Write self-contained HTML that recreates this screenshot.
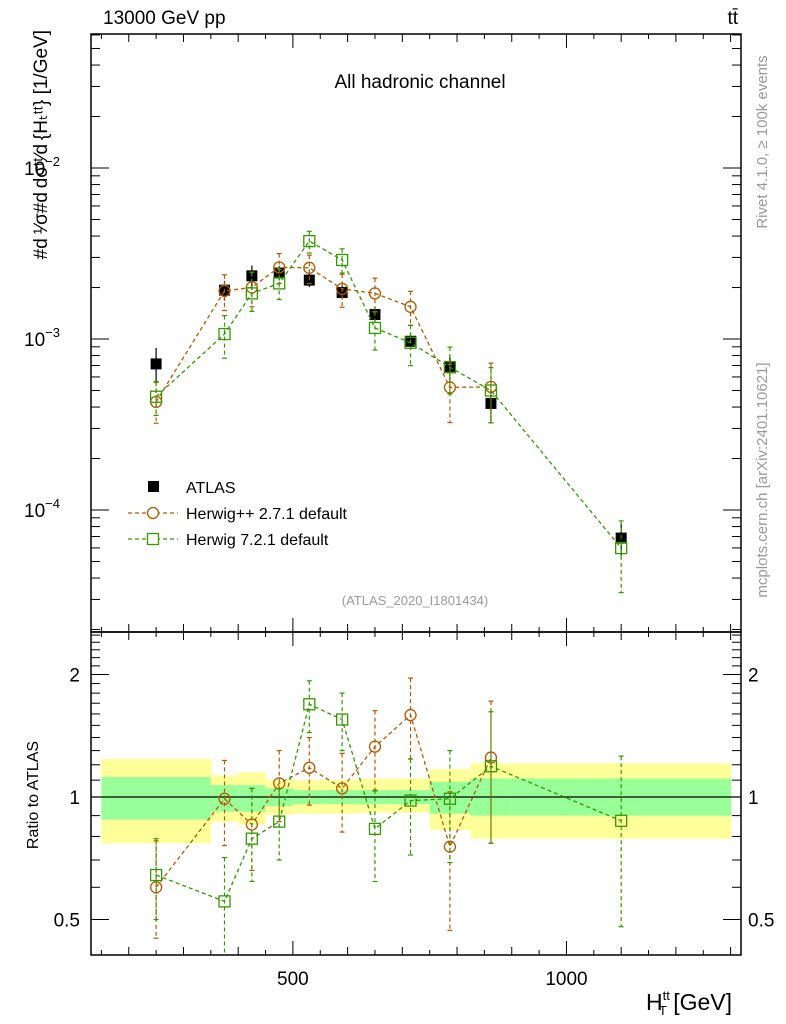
<!DOCTYPE html>
<html><head><meta charset="utf-8"><style>
body{margin:0;background:#fff;}
svg{display:block;font-family:"Liberation Sans",sans-serif;}
</style></head><body>
<svg id="c" width="786" height="1024" viewBox="0 0 786 1024"></svg>
<script>
const binLo=[150,350,400,450,500,560,620,680,750,825,900];
const binHi=[350,400,450,500,560,620,680,750,825,900,1300];
const binMid=[250,375,425,475,530,590,650,715,787,862,1100];
const dataVals=[7.15e-4,1.93e-3,2.34e-3,2.43e-3,2.21e-3,1.87e-3,1.39e-3,9.7e-4,6.9e-4,4.2e-4,6.85e-5];
const statHi=[1.12,1.07,1.07,1.05,1.04,1.04,1.04,1.04,1.09,1.11,1.11];
const statLo=[0.88,0.92,0.92,0.95,0.96,0.96,0.96,0.96,0.91,0.90,0.90];
const totHi=[1.24,1.13,1.15,1.10,1.10,1.10,1.11,1.11,1.17,1.21,1.21];
const totLo=[0.77,0.87,0.855,0.905,0.91,0.91,0.915,0.915,0.83,0.79,0.79];
const hppRatio=[0.60,0.99,0.856,1.08,1.18,1.05,1.33,1.59,0.755,1.25];
const hppUp=[0.78,1.23,1.05,1.30,1.40,1.28,1.63,1.96,1.03,1.72];
const hppDn=[0.45,0.76,0.66,0.87,0.955,0.82,1.035,1.24,0.47,0.77];
const h7Ratio=[0.643,0.554,0.79,0.87,1.69,1.55,0.835,0.98,0.99,1.19,0.874];
const h7Up=[0.79,0.71,1.05,1.05,1.93,1.80,1.04,1.24,1.30,1.62,1.26];
const h7Dn=[0.50,0.40,0.62,0.70,1.44,1.30,0.62,0.72,0.69,0.77,0.48];
const xTicks=[500,1000];
const yMainTicks=[-4,-3,-2];
const yRatioTicks=[0.5,1,2];

const NS="http://www.w3.org/2000/svg";
const svg=document.getElementById('c');
const L=91,R=741,T=34,M=632,B=955;
const X=v=>L+(v-131)*(R-L)/1188;
const YM=v=>168-171*(Math.log10(v)+2);
const YR=r=>797-122.5*Math.log2(r);
function el(tag,attrs,parent,name,inter){const e=document.createElementNS(NS,tag);for(const k in attrs)e.setAttribute(k,attrs[k]);


(parent||svg).appendChild(e);return e;}
function txt(s,attrs,name){const e=el('text',attrs,svg,name,false);e.textContent=s;return e;}

const defs=el('defs',{},svg,'defs',false);
const cp1=el('clipPath',{id:'cm'},defs,'clip-main',false);el('rect',{x:L,y:T,width:R-L,height:M-T},cp1,'clip-rect',false);
const cp2=el('clipPath',{id:'cr'},defs,'clip-ratio',false);el('rect',{x:L,y:M,width:R-L,height:B-M},cp2,'clip-rect',false);

const gR=el('g',{'clip-path':'url(#cr)'},svg,'ratio-plot-area',false);
for(let i=0;i<binLo.length;i++){
 el('rect',{x:X(binLo[i]),y:YR(totHi[i]),width:X(binHi[i])-X(binLo[i])+0.5,height:YR(totLo[i])-YR(totHi[i]),fill:'#ffff99'},gR,'total-uncertainty-band',false);
 el('rect',{x:X(binLo[i]),y:YR(statHi[i]),width:X(binHi[i])-X(binLo[i])+0.5,height:YR(statLo[i])-YR(statHi[i]),fill:'#99ff99'},gR,'stat-uncertainty-band',false);
}
el('line',{x1:L,x2:R,y1:YR(1),y2:YR(1),stroke:'#000','stroke-width':1.3},gR,'ratio-unity-line',false);

const C1='#b35900',C2='#339900';
function series(g,xs,ys,ups,dns,col,marker,name){
 let pts=xs.map((x,i)=>X(x)+','+ys[i]).join(' ');
 el('polyline',{points:pts,fill:'none',stroke:col,'stroke-width':1.3,'stroke-dasharray':'4,3'},g,name+'-line',false);
 xs.forEach((x,i)=>{
  const cx=X(x);
  el('line',{x1:cx,x2:cx,y1:ups[i],y2:dns[i],stroke:col,'stroke-width':1.2,'stroke-dasharray':'4,3'},g,name+'-errorbar',false);
  el('line',{x1:cx-2.5,x2:cx+2.5,y1:ups[i],y2:ups[i],stroke:col,'stroke-width':1.2},g,name+'-errorcap',false);
  el('line',{x1:cx-2.5,x2:cx+2.5,y1:dns[i],y2:dns[i],stroke:col,'stroke-width':1.2},g,name+'-errorcap',false);
  if(marker==='c')el('circle',{cx:cx,cy:ys[i],r:5.5,fill:'none',stroke:col,'stroke-width':1.3},g,name+'-point',false);
  else el('rect',{x:cx-5.5,y:ys[i]-5.5,width:11,height:11,fill:'none',stroke:col,'stroke-width':1.3},g,name+'-point',false);
 });
}
const xsH=binMid.slice(0,hppRatio.length);
series(gR,xsH,hppRatio.map(YR),hppUp.map(YR),hppDn.map(YR),C1,'c','herwigpp-ratio');
series(gR,binMid,h7Ratio.map(YR),h7Up.map(YR),h7Dn.map(YR),C2,'s','herwig7-ratio');

const gM=el('g',{'clip-path':'url(#cm)'},svg,'main-plot-area',false);
dataVals.forEach((v,i)=>{
 const cx=X(binMid[i]);
 el('line',{x1:cx,x2:cx,y1:YM(v*totHi[i]),y2:YM(v*totLo[i]),stroke:'#000','stroke-width':1.2},gM,'atlas-errorbar',false);
 el('rect',{x:cx-5.5,y:YM(v)-5.5,width:11,height:11,fill:'#000'},gM,'atlas-point',false);
});
series(gM,xsH,hppRatio.map((r,i)=>YM(r*dataVals[i])),hppUp.map((r,i)=>YM(r*dataVals[i])),hppDn.map((r,i)=>YM(r*dataVals[i])),C1,'c','herwigpp');
series(gM,binMid,h7Ratio.map((r,i)=>YM(r*dataVals[i])),h7Up.map((r,i)=>YM(r*dataVals[i])),h7Dn.map((r,i)=>YM(r*dataVals[i])),C2,'s','herwig7');

el('rect',{x:L,y:T,width:R-L,height:M-T,fill:'none',stroke:'#000','stroke-width':1.5},svg,'main-frame',false);
el('rect',{x:L,y:M,width:R-L,height:B-M,fill:'none',stroke:'#000','stroke-width':1.5},svg,'ratio-frame',false);

for(let v=150;v<=1300;v+=50){
 const big=v%500===0, med=v%100===0;
 const len=big?14:(med?8:5);
 const x=X(v);
 [[T,1],[M,-1],[M,1],[B,-1]].forEach(([y,d])=>el('line',{x1:x,x2:x,y1:y,y2:y+d*len,stroke:'#000','stroke-width':1},svg,'x-tick',false));
}
xTicks.forEach(v=>txt(String(v),{x:X(v),y:985,'font-size':19,'text-anchor':'middle'},'x-tick-label'));

for(let d=-5;d<=-1;d++){for(let k=1;k<=9;k++){
 const v=k*Math.pow(10,d);const y=YM(v);if(y<T||y>M)continue;
 const len=k===1?18:9;
 el('line',{x1:L,x2:L+len,y1:y,y2:y,stroke:'#000','stroke-width':1},svg,'y-tick',false);
 el('line',{x1:R,x2:R-len,y1:y,y2:y,stroke:'#000','stroke-width':1},svg,'y-tick',false);
}}
yMainTicks.forEach(e=>{const t=txt('10',{x:60,y:YM(Math.pow(10,e))+7,'font-size':19,'text-anchor':'end'},'y-tick-label');
 const s=document.createElementNS(NS,'tspan');s.setAttribute('dy',-9);s.setAttribute('font-size',13);s.textContent='\u2212'+(-e);
 
 
 t.appendChild(s);});

const rMinor=[0.5,0.6,0.7,0.8,0.9,1,1.1,1.2,1.3,1.4,1.5,1.6,1.7,1.8,1.9,2,2.1,2.2,2.3,2.4,2.5];
rMinor.forEach(r=>{const y=YR(r);if(y<M||y>B)return;const len=(r===0.5||r===1||r===2)?18:9;
 el('line',{x1:L,x2:L+len,y1:y,y2:y,stroke:'#000','stroke-width':1},svg,'ratio-tick',false);
 el('line',{x1:R,x2:R-len,y1:y,y2:y,stroke:'#000','stroke-width':1},svg,'ratio-tick',false);});
yRatioTicks.forEach(r=>{
 txt(String(r),{x:80,y:YR(r)+7,'font-size':19,'text-anchor':'end'},'ratio-tick-label');
 txt(String(r),{x:748,y:YR(r)+7,'font-size':19},'ratio-tick-label-right');});

txt('13000 GeV pp',{x:103,y:24,'font-size':19},'energy-label');
txt('tt\u0304',{x:738,y:24,'font-size':19,'text-anchor':'end'},'process-label');
txt('All hadronic channel',{x:420,y:88,'font-size':19,'text-anchor':'middle'},'plot-title');
txt('(ATLAS_2020_I1801434)',{x:415,y:605,'font-size':13,fill:'#999','text-anchor':'middle'},'analysis-id');
txt('Rivet 4.1.0, \u2265 100k events',{x:0,y:0,'font-size':15,fill:'#999','text-anchor':'middle',transform:'translate(767,142) rotate(-90)'},'rivet-label');
txt('mcplots.cern.ch [arXiv:2401.10621]',{x:0,y:0,'font-size':15,fill:'#999','text-anchor':'middle',transform:'translate(767,480) rotate(-90)'},'mcplots-label');
txt('Ratio to ATLAS',{x:0,y:0,'font-size':16,'text-anchor':'middle',transform:'translate(38,795) rotate(-90)'},'ratio-y-title');
txt('#d\u2009\u00b9\u2044\u03c3#d\u2009d\u03c3\u1d57\u1d57\u2044d\u2009{H\u209c\u1d57\u1d57} [1/GeV]',{x:0,y:0,'font-size':19,'text-anchor':'end',transform:'translate(47,30) rotate(-90)'},'y-axis-title');
const xt=txt('H',{x:646,y:1010,'font-size':23},'x-axis-title');
[['tt',-10,13],['T',15,13],[' [GeV]',-5,23]].forEach(([s,dy,fs],i)=>{const t=document.createElementNS(NS,'tspan');t.setAttribute('dy',dy);t.setAttribute('font-size',fs);if(i===1)t.setAttribute('dx',-11);
 
 
 t.textContent=s;xt.appendChild(t);});

el('rect',{x:148,y:481,width:11,height:11,fill:'#000'},svg,'legend-atlas-marker',false);
txt('ATLAS',{x:186,y:493,'font-size':16},'legend-atlas-label');
el('line',{x1:128,x2:178,y1:513,y2:513,stroke:C1,'stroke-width':1.3,'stroke-dasharray':'4,3'},svg,'legend-herwigpp-line',false);
el('circle',{cx:153,cy:513,r:5.5,fill:'#fff',stroke:C1,'stroke-width':1.3},svg,'legend-herwigpp-marker',false);
txt('Herwig++ 2.7.1 default',{x:186,y:519,'font-size':16},'legend-herwigpp-label');
el('line',{x1:128,x2:178,y1:539,y2:539,stroke:C2,'stroke-width':1.3,'stroke-dasharray':'4,3'},svg,'legend-herwig7-line',false);
el('rect',{x:147.5,y:533.5,width:11,height:11,fill:'#fff',stroke:C2,'stroke-width':1.3},svg,'legend-herwig7-marker',false);
txt('Herwig 7.2.1 default',{x:186,y:545,'font-size':16},'legend-herwig7-label');
</script>
</body></html>
